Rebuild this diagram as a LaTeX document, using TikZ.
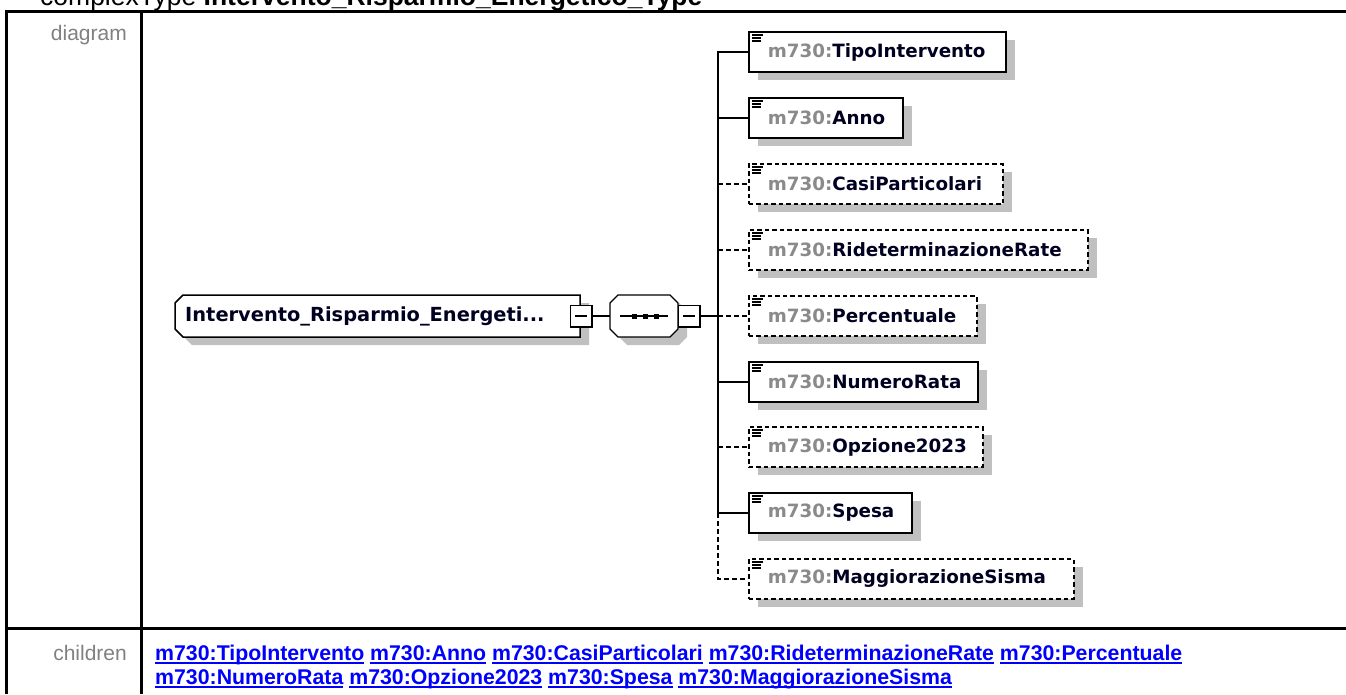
\documentclass[tikz,border=0pt]{standalone}
\usepackage{fontspec}
\setmainfont{Liberation Sans}
\newfontfamily\boxfont{DejaVu Sans}
\usetikzlibrary{shadows}
\definecolor{shadowgray}{HTML}{C0C0C0}
\definecolor{pfxgray}{HTML}{8A8A8A}
\definecolor{lblgray}{HTML}{808080}
\definecolor{linkblue}{HTML}{0000FF}
\definecolor{namecol}{HTML}{000020}
\newcommand\pfx{{\color{pfxgray}m730:}}
\newsavebox\lnkbox
\newcommand\lnk[1]{{\color{linkblue}\sbox\lnkbox{#1}\rlap{\rule[-3.5pt]{\wd\lnkbox}{1.8pt}}\usebox\lnkbox}}
\begin{document}
\begin{tikzpicture}[x=1pt,y=1pt,
  elem/.style={draw, line width=1.6pt, fill=white, minimum height=40pt,
    inner xsep=19pt, inner ysep=0pt, anchor=west, align=left, text=namecol,
    font=\boxfont\bfseries\fontsize{18.3}{22}\selectfont,
    drop shadow={shadow xshift=9pt, shadow yshift=-8pt, fill=shadowgray, opacity=1}},
  opt/.style={elem, dash pattern=on 4.5pt off 3pt},
  conn/.style={line width=1.5pt},
  optconn/.style={line width=1.5pt, dash pattern=on 4.5pt off 3.5pt},
  minus/.style={draw, line width=1.2pt, fill=white, minimum size=21pt, inner sep=0pt},
  rowlabel/.style={anchor=base east, text=lblgray, inner sep=0pt, font=\fontsize{21}{24}\selectfont},
  linkrow/.style={anchor=base west, inner sep=0pt, font=\bfseries\fontsize{21.3}{24}\selectfont},
  frame/.style={line width=3pt},
  iconline/.style={line width=1.6pt}
]
\useasboundingbox (0,0) rectangle (1346,-694);
\clip (0,0) rectangle (1346,-694);

% title (cut at the top)
\node[anchor=base west, inner sep=0pt, font=\fontsize{26.5}{30}\selectfont] (title) at (40,-5)
  {complexType \textbf{Intervento\_Risparmio\_Energetico\_Type}};

% table frame
\draw[frame] (1346,-11.5) -- (6.5,-11.5) -- (6.5,-694);
\draw[frame] (141,-11.5) -- (141,-694);
\draw[frame] (6.5,-628) -- (1346,-628);

\node[rowlabel] (dlabel) at (127,-40) {diagram};
\node[rowlabel] (clabel) at (127,-660) {children};

% children links
\node[linkrow] (links1) at (155,-660) {\lnk{m730:TipoIntervento} \lnk{m730:Anno} \lnk{m730:CasiParticolari} \lnk{m730:RideterminazioneRate} \lnk{m730:Percentuale}};
\node[linkrow] (links2) at (155,-684) {\lnk{m730:NumeroRata} \lnk{m730:Opzione2023} \lnk{m730:Spesa} \lnk{m730:MaggiorazioneSisma}};

% root element
\fill[shadowgray] (192,-303) -- (589,-303) -- (589,-345) -- (192,-345) -- (184,-337) -- (184,-311) -- cycle;
\draw[line width=1.5pt, fill=white] (183,-295) -- (580,-295) -- (580,-337) -- (183,-337) -- (175,-329) -- (175,-303) -- cycle;
\node[anchor=west, inner sep=0pt, text=namecol, font=\boxfont\bfseries\fontsize{19.4}{24}\selectfont] (root) at (185,-316) {Intervento\_Risparmio\_Energeti...};
\node[minus] (rm) at (581,-316) {};
\draw[line width=2.6pt] (rm.north east) -- (rm.south east) -- (rm.south west);
\draw[line width=1.2pt] ([xshift=-6pt]rm.center) -- ([xshift=6pt]rm.center);

% sequence compositor
\fill[shadowgray] (627,-303) -- (679,-303) -- (687,-311) -- (687,-337) -- (679,-345) -- (627,-345) -- (619,-337) -- (619,-311) -- cycle;
\draw[line width=1.2pt, fill=white] (618,-295) -- (670,-295) -- (678,-303) -- (678,-329) -- (670,-337) -- (618,-337) -- (610,-329) -- (610,-303) -- cycle;
\node[inner sep=0pt, minimum width=68pt, minimum height=42pt] (seq) at (644,-316) {};
\draw[line width=1.2pt] (620,-316) -- (668,-316);
\foreach \sx in {634,645,656} \fill (\sx-2.5,-318.5) rectangle (\sx+2.5,-313.5);
\node[minus] (sm) at (689,-316) {};
\draw[line width=2.6pt] (sm.north east) -- (sm.south east) -- (sm.south west);
\draw[line width=1.2pt] ([xshift=-6pt]sm.center) -- ([xshift=6pt]sm.center);

% child elements
\node[elem, text width=219pt] (e1) at (748,-52) {\pfx TipoIntervento};
\node[elem, text width=116pt] (e2) at (748,-118) {\pfx Anno};
\node[opt, text width=216pt] (e3) at (748,-184) {\pfx CasiParticolari};
\node[opt, text width=301pt] (e4) at (748,-250) {\pfx RideterminazioneRate};
\node[opt, text width=190pt] (e5) at (748,-316) {\pfx Percentuale};
\node[elem, text width=191pt] (e6) at (748,-382) {\pfx NumeroRata};
\node[opt, text width=196pt] (e7) at (748,-447) {\pfx Opzione2023};
\node[elem, text width=125pt] (e8) at (748,-513) {\pfx Spesa};
\node[opt, text width=287pt] (e9) at (748,-579) {\pfx MaggiorazioneSisma};

\foreach \n in {e1,e2,e3,e4,e5,e6,e7,e8,e9} {
  \draw[iconline] ([shift={(4,-3.5)}]\n.north west) -- ++(11,0);
  \draw[iconline] ([shift={(4,-6.5)}]\n.north west) -- ++(9,0);
  \draw[iconline] ([shift={(4,-9.5)}]\n.north west) -- ++(9,0);
}

% bus
\foreach \i/\yy in {1/52,2/118,3/184,4/250,5/316,6/382,7/447,8/513,9/579}
  \coordinate (t\i) at (718,-\yy);

\draw[conn] (rm.east) -- (seq.west);
\draw[conn] (sm.east) -- (t5);
\draw[conn] (e1.west) -- (t1) -- (t8) -- (e8.west);
\draw[conn] (t2) -- (e2.west);
\draw[conn] (t6) -- (e6.west);
\draw[optconn] (t3) -- (e3.west);
\draw[optconn] (t4) -- (e4.west);
\draw[optconn] (t5) -- (e5.west);
\draw[optconn] (t7) -- (e7.west);
\draw[optconn] (t8) -- (t9) -- (e9.west);
\end{tikzpicture}
\end{document}
